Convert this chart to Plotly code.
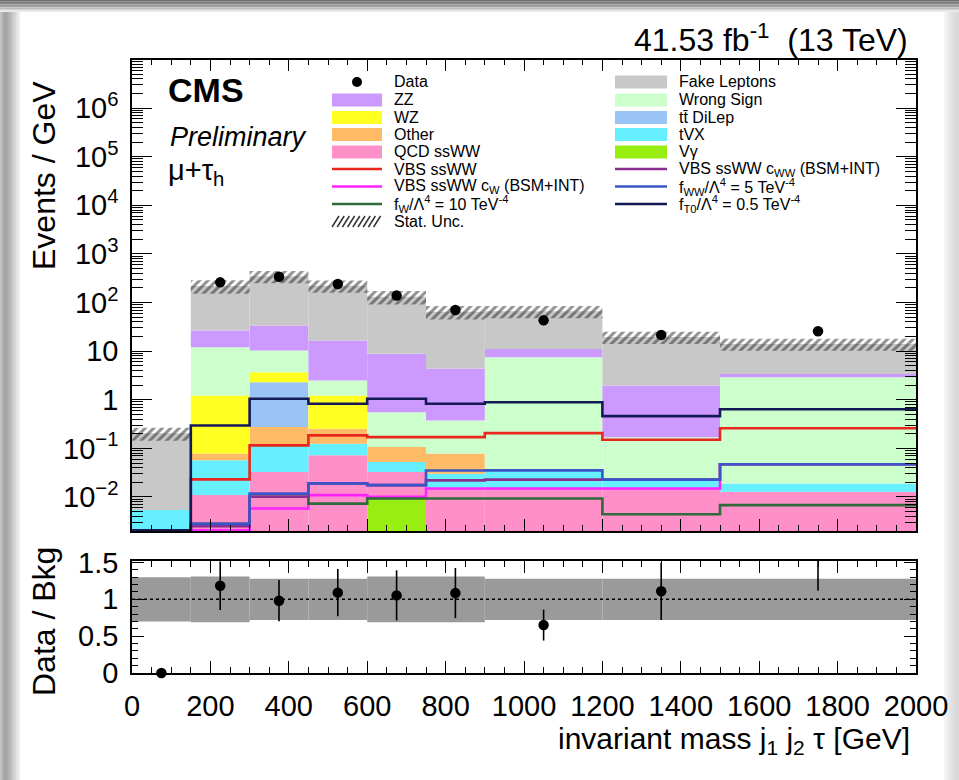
import numpy as np
import plotly.graph_objects as go

W, H = 959, 780
FONT = "Liberation Sans, Arial, Helvetica, sans-serif"

# ---- binning ---------------------------------------------------------------
edges = [0, 150, 300, 450, 600, 750, 900, 1200, 1500, 2000]

# ---- background yields per bin (Events / GeV), stack order bottom -> top ----
vgamma     = [0, 0, 0, 0, 0.0093, 0, 0, 0, 0]
qcd_ssww   = [0, 0.0109, 0.0327, 0.0718, 0.0234, 0.0149, 0.0149, 0.0149, 0.0127]
tvx        = [0.0053, 0.046, 0.082, 0.053, 0.0197, 0.0151, 0.0204, 0.007, 0.0061]
other      = [0, 0.021, 0.16, 0.128, 0.054, 0.048, 0, 0, 0]
ttdilep    = [0, 0, 2.03, 0, 0, 0, 0, 0, 0]
wz         = [0, 1.14, 1.39, 0.97, 0, 0, 0, 0, 0]
wrong_sign = [0, 10.8, 6.6, 1.27, 0.45, 0.298, 7.46, 0.148, 2.89]
zz         = [0, 14.5, 23.3, 14.0, 8.24, 3.95, 3.6, 1.8, 0.49]
fake       = [0.2, 193, 313, 204.5, 123.2, 60.7, 55, 17.5, 10.7]

# relative statistical uncertainty of the total background
stat_unc = [0.3, 0.31, 0.28, 0.28, 0.31, 0.31, 0.28, 0.28, 0.28]

# ---- data -------------------------------------------------------------------
data = [0, 260, 340, 241, 139, 70.5, 43, 21.6, 25.6]
ratio_err = [0, 0.33, 0.28, 0.32, 0.34, 0.34, 0.21, 0.39, 0.7]

# ---- signal / EFT curves (not stacked) ---------------------------------------
vbs_ssww   = [0, 0.023, 0.115, 0.185, 0.17, 0.17, 0.206, 0.15, 0.26]
vbs_cw     = [0, 0, 0.0058, 0.0109, 0.0101, 0.0149, 0.0149, 0.0149, 0.047]
fw_10      = [0, 0.0028, 0.0101, 0.0073, 0.0093, 0.0093, 0.0093, 0.0044, 0.0068]
vbs_cww    = [0, 0.0025, 0.0101, 0.019, 0.0175, 0.022, 0.0228, 0.0228, 0.047]
fww_5      = [0, 0.0028, 0.0117, 0.019, 0.0175, 0.035, 0.0353, 0.0228, 0.047]
ft0_05     = [0, 0.296, 1.05, 0.83, 1.05, 0.83, 0.89, 0.46, 0.64]

stack = [
    ("Vγ", vgamma, "#99ee11"),
    ("QCD ssWW", qcd_ssww, "#ff8fc8"),
    ("tVX", tvx, "#66f0ff"),
    ("Other", other, "#ffbb66"),
    ("tt DiLep", ttdilep, "#99c4f5"),
    ("WZ", wz, "#ffff22"),
    ("Wrong Sign", wrong_sign, "#ccffcc"),
    ("ZZ", zz, "#cc99ff"),
    ("Fake Leptons", fake, "#c8c8c8"),
]
curves = [
    ("VBS ssWW", vbs_ssww, "#e8261e"),
    ("VBS ssWW cW", vbs_cw, "#ff22ff"),
    ("fW 10", fw_10, "#2f6a3a"),
    ("VBS ssWW cWW", vbs_cww, "#8a2f8f"),
    ("fWW 5", fww_5, "#3b55c8"),
    ("fT0 0.5", ft0_05, "#141a55"),
]

e = np.array(edges, dtype=float)
centers = 0.5 * (e[1:] + e[:-1])
widths = np.diff(e)

LOG_MIN, LOG_MAX = -2.7, 7.0
RATIO_MAX = 1.52
ymin = 10 ** LOG_MIN
floor = ymin / 20.0

def px(x):
    return x / W

def py(y):
    return 1 - y / H

fig = go.Figure()

# stacked backgrounds
base = np.full(len(centers), floor)
for name, vals, col in stack:
    v = np.array(vals, dtype=float)
    fig.add_trace(go.Bar(x=centers, y=v, base=base.copy(), width=widths,
                         marker=dict(color=col, line=dict(width=0)),
                         xaxis="x", yaxis="y", name=name, hoverinfo="skip"))
    base = base + v
total = base - floor

# statistical uncertainty band (hatched)
u = np.array(stat_unc)
fig.add_trace(go.Bar(x=centers, y=2 * u * total, base=total * (1 - u), width=widths,
                     marker=dict(color="rgba(0,0,0,0)", line=dict(width=0),
                                 pattern=dict(shape="/", fgcolor="#222222",
                                              bgcolor="rgba(0,0,0,0)", size=6,
                                              solidity=0.5, fillmode="overlay")),
                     xaxis="x", yaxis="y", hoverinfo="skip"))

# signal curves as step histograms
xs = list(e)
for name, vals, col in curves:
    v = np.maximum(np.array(vals, dtype=float), 10 ** (LOG_MIN + 0.012))
    fig.add_trace(go.Scatter(x=xs, y=list(v) + [v[-1]], mode="lines",
                             line=dict(color=col, width=2.6, shape="hv"),
                             xaxis="x", yaxis="y", hoverinfo="skip"))

# data points
d = np.array(data, dtype=float)
mask = d > 0
fig.add_trace(go.Scatter(x=centers[mask], y=d[mask], mode="markers",
                         marker=dict(color="black", size=10.5),
                         xaxis="x", yaxis="y", hoverinfo="skip"))

# ---- ratio panel --------------------------------------------------------------
fig.add_trace(go.Bar(x=centers, y=2 * u, base=1 - u, width=widths,
                     marker=dict(color="#9a9a9a", line=dict(width=0)),
                     xaxis="x2", yaxis="y2", hoverinfo="skip"))
ratio = d / total
# error bars, clipped to the panel
fig.add_trace(go.Scatter(x=centers, y=ratio, mode="markers",
                         marker=dict(color="rgba(0,0,0,0)", size=1),
                         error_y=dict(type="data", array=ratio_err, color="black",
                                      thickness=1.6, width=0),
                         xaxis="x2", yaxis="y2", hoverinfo="skip"))
# markers of the points inside the panel range (not clipped at the frame)
inr = ratio <= RATIO_MAX
fig.add_trace(go.Scatter(x=centers[inr], y=ratio[inr], mode="markers",
                         marker=dict(color="black", size=10.5), cliponaxis=False,
                         xaxis="x2", yaxis="y2", hoverinfo="skip"))

# ---- axes -----------------------------------------------------------------------
xdom = [px(132), px(916)]
tickfont = dict(family=FONT, size=29, color="black")

common_x = dict(range=[0, 2000], showgrid=False, zeroline=False, showline=True,
                linecolor="black", linewidth=1.5, mirror="ticks", ticks="inside",
                tickvals=list(range(0, 2001, 200)), ticklen=12, tickwidth=1.2,
                tickcolor="black", automargin=False,
                minor=dict(ticks="inside", dtick=50, ticklen=6, tickcolor="black",
                           tickwidth=1.1, showgrid=False))

major_log = [10.0 ** k for k in range(-2, 7)]
log_text = ["10<sup>−2</sup>", "10<sup>−1</sup>", "1", "10", "10<sup>2</sup>",
            "10<sup>3</sup>", "10<sup>4</sup>", "10<sup>5</sup>", "10<sup>6</sup>"]
minor_log = [m * 10.0 ** k for k in range(-3, 7) for m in range(2, 10)]

fig.update_layout(
    width=W, height=H,
    margin=dict(l=0, r=0, t=0, b=0, pad=0, autoexpand=False),
    paper_bgcolor="white", plot_bgcolor="rgba(0,0,0,0)",
    barmode="overlay", showlegend=False,
    font=dict(family=FONT, color="black"),
    xaxis=dict(domain=xdom, anchor="y", showticklabels=False, **common_x),
    yaxis=dict(domain=[py(531), py(59.5)], anchor="x", type="log",
               range=[LOG_MIN, LOG_MAX], showgrid=False, zeroline=False,
               showline=True, linecolor="black", linewidth=1.5, mirror="ticks",
               ticks="inside", tickvals=major_log, ticktext=log_text,
               ticklen=20, tickwidth=1.2, tickcolor="black", tickfont=tickfont,
               ticklabelstandoff=6, automargin=False,
               minor=dict(ticks="inside", tickvals=minor_log, ticklen=11,
                          tickcolor="black", tickwidth=1.0, showgrid=False)),
    xaxis2=dict(domain=xdom, anchor="y2", showticklabels=True, tickfont=tickfont,
                ticklabelstandoff=6, **common_x),
    yaxis2=dict(domain=[py(673), py(561)], anchor="x2", range=[0, RATIO_MAX],
                showgrid=False, zeroline=False, showline=True, linecolor="black",
                linewidth=1.5, mirror="ticks", ticks="inside",
                tickvals=[0, 0.5, 1, 1.5], ticktext=["0", "0.5", "1", "1.5"],
                ticklen=12, tickwidth=1.2, tickcolor="black", tickfont=tickfont,
                ticklabelstandoff=6, automargin=False,
                minor=dict(ticks="inside", dtick=0.1, ticklen=6, tickcolor="black",
                           tickwidth=1.0, showgrid=False)),
)

shapes = []
# dotted reference line at ratio 1
shapes.append(dict(type="line", xref="x2", yref="y2", x0=0, x1=2000, y0=1, y1=1,
                   line=dict(color="black", width=1.5, dash="dot")))

# page border (gray surround)
def band(x0, x1, y0, y1, col):
    shapes.append(dict(type="rect", xref="paper", yref="paper", layer="below",
                       x0=px(x0), x1=px(x1), y0=py(y1), y1=py(y0),
                       fillcolor=col, line=dict(width=0)))

top_cols = ["#6e6e6e", "#7a7a7a", "#888888", "#979797", "#a8a8a8", "#bcbcbc", "#d2d2d2", "#e8e8e8"]
for i, c in enumerate(top_cols):
    band(0, W, i * 1.5, i * 1.5 + 1.5, c)
left_cols = ["#c4c4c4", "#b0b0b0", "#a4a4a4", "#a8a8a8", "#b2b2b2", "#bebebe", "#cacaca", "#d6d6d6", "#e2e2e2", "#eeeeee"]
for i, c in enumerate(left_cols):
    band(i * 2, i * 2 + 2, 12, H, c)
right_cols = ["#f4f4f4", "#eaeaea", "#e2e2e2", "#dcdcdc", "#d8d8d8"]
for i, c in enumerate(right_cols):
    band(944 + i * 3, 944 + i * 3 + 3, 12, H, c)

annotations = []

def text(x, y, s, size, xanchor="left", yanchor="middle", **kw):
    annotations.append(dict(x=px(x), y=py(y), xref="paper", yref="paper", text=s,
                            showarrow=False, xanchor=xanchor, yanchor=yanchor,
                            font=dict(family=FONT, size=size, color="black"), **kw))

# header and axis titles
text(910, 38, "41.53 fb<sup>-1</sup>  (13 TeV)", 32, xanchor="right")
text(44, 176, "Events / GeV", 32, xanchor="center", textangle=-90)
text(44, 622, "Data / Bkg", 32, xanchor="center", textangle=-90)
text(912, 740, "invariant mass j<sub>1</sub> j<sub>2</sub> τ [GeV]", 30, xanchor="right")

# CMS label
text(166, 90, "<b>CMS</b>", 34)
text(168, 137, "<i>Preliminary</i>", 27)
text(166, 172, "μ+τ<sub>h</sub>", 29)

# ---- legend ----------------------------------------------------------------------
rows = [82, 100, 117.5, 134.5, 152, 169, 186.5, 204, 221.5]
c1x0, c1x1, c1t = 332, 382, 392
c2x0, c2x1, c2t = 615, 667, 677
LFS = 16

def patch(x0, x1, yc, col):
    shapes.append(dict(type="rect", xref="paper", yref="paper",
                       x0=px(x0), x1=px(x1), y0=py(yc + 6.5), y1=py(yc - 6.5),
                       fillcolor=col, line=dict(width=0)))

def lline(x0, x1, yc, col):
    shapes.append(dict(type="line", xref="paper", yref="paper",
                       x0=px(x0), x1=px(x1), y0=py(yc), y1=py(yc),
                       line=dict(color=col, width=2.6)))

scol = {n: c for n, _, c in stack}
ccol = {n: c for n, _, c in curves}

# column 1
shapes.append(dict(type="circle", xref="paper", yref="paper",
                   x0=px(352), x1=px(362), y0=py(rows[0] + 5), y1=py(rows[0] - 5),
                   fillcolor="black", line=dict(width=0)))
text(c1t, rows[0], "Data", LFS)
patch(c1x0, c1x1, rows[1], scol["ZZ"]);          text(c1t, rows[1], "ZZ", LFS)
patch(c1x0, c1x1, rows[2], scol["WZ"]);          text(c1t, rows[2], "WZ", LFS)
patch(c1x0, c1x1, rows[3], scol["Other"]);       text(c1t, rows[3], "Other", LFS)
patch(c1x0, c1x1, rows[4], scol["QCD ssWW"]);    text(c1t, rows[4], "QCD ssWW", LFS)
lline(c1x0, c1x1, rows[5], ccol["VBS ssWW"]);    text(c1t, rows[5], "VBS ssWW", LFS)
lline(c1x0, c1x1, rows[6], ccol["VBS ssWW cW"])
text(c1t, rows[6], "VBS ssWW c<sub>W</sub> (BSM+INT)", LFS)
lline(c1x0, c1x1, rows[7], ccol["fW 10"])
text(c1t, rows[7], "f<sub>W</sub>/Λ<sup>4</sup> = 10 TeV<sup>-4</sup>", LFS)
# hatched patch for the stat. uncertainty
hy0, hy1 = rows[8] + 5.5, rows[8] - 5.5
for k in range(9):
    xa = c1x0 + k * 5.2
    shapes.append(dict(type="line", xref="paper", yref="paper",
                       x0=px(xa), x1=px(xa + 7), y0=py(hy0), y1=py(hy1),
                       line=dict(color="#333333", width=1.5)))
text(c1t, rows[8], "Stat. Unc.", LFS)

# column 2
patch(c2x0, c2x1, rows[0], scol["Fake Leptons"]); text(c2t, rows[0], "Fake Leptons", LFS)
patch(c2x0, c2x1, rows[1], scol["Wrong Sign"]);   text(c2t, rows[1], "Wrong Sign", LFS)
patch(c2x0, c2x1, rows[2], scol["tt DiLep"]);     text(c2t, rows[2], "tt̄ DiLep", LFS)
patch(c2x0, c2x1, rows[3], scol["tVX"]);          text(c2t, rows[3], "tVX", LFS)
patch(c2x0, c2x1, rows[4], scol["Vγ"]);           text(c2t, rows[4], "Vγ", LFS)
lline(c2x0, c2x1, rows[5], ccol["VBS ssWW cWW"])
text(c2t, rows[5], "VBS ssWW c<sub>WW</sub> (BSM+INT)", LFS)
lline(c2x0, c2x1, rows[6], ccol["fWW 5"])
text(c2t, rows[6], "f<sub>WW</sub>/Λ<sup>4</sup> = 5 TeV<sup>-4</sup>", LFS)
lline(c2x0, c2x1, rows[7], ccol["fT0 0.5"])
text(c2t, rows[7], "f<sub>T0</sub>/Λ<sup>4</sup> = 0.5 TeV<sup>-4</sup>", LFS)

fig.update_layout(shapes=shapes, annotations=annotations)
fig.write_html("out.html")
